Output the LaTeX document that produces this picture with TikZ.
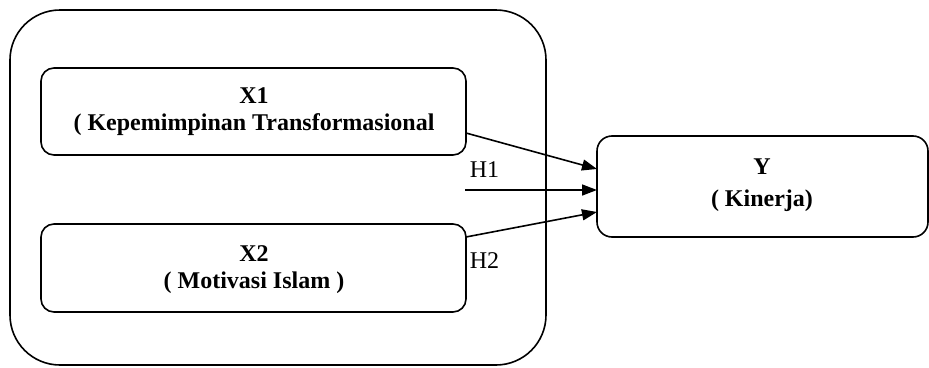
\documentclass[tikz,border=0pt]{standalone}
\usepackage{fontspec}
\setmainfont{Liberation Serif}
\usetikzlibrary{arrows.meta}
\begin{document}
\begin{tikzpicture}[x=1pt,y=-1pt,line width=1.6pt,
  box/.style={draw,rounded corners=13pt},
  lbl/.style={font=\fontsize{24}{27}\selectfont\bfseries,align=center},
  hyp/.style={font=\fontsize{24}{26}\selectfont,anchor=base west,inner sep=0pt},
  arr/.style={-{Triangle[length=15pt,width=11pt]}}]
\useasboundingbox (0,0) rectangle (929,367);
\draw[rounded corners=50pt] (10,10) rectangle (546,365);
\draw[box] (41,68) rectangle (466,155);
\draw[box] (41,224) rectangle (466,312);
\draw[box,rounded corners=15pt] (597,136) rectangle (928,237);
\node[lbl] (x1) at (254,112) {X1\\( Kepemimpinan Transformasional};
\node[lbl] (x2) at (254,270) {X2\\( Motivasi Islam )};
\node[lbl,font=\fontsize{24}{32}\selectfont\bfseries] (y) at (762,185) {Y\\( Kinerja)};
\coordinate (a1) at (466,133);
\coordinate (b1) at (597,169);
\coordinate (a2) at (465,190);
\coordinate (b2) at (597,190);
\coordinate (a3) at (466,237);
\coordinate (b3) at (597,212);
\draw[arr] (a1) -- (b1);
\draw[arr] (a2) -- (b2);
\draw[arr] (a3) -- (b3);
\node[hyp] (h1) at (469,177) {H1};
\node[hyp] (h2) at (469,268) {H2};
\end{tikzpicture}
\end{document}
